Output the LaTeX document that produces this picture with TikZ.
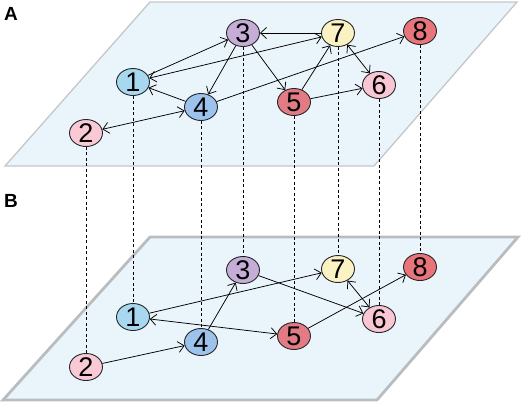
\documentclass[tikz,border=0pt]{standalone}
\usepackage{fontspec}
\setmainfont{Liberation Sans}
\usetikzlibrary{arrows.meta,shapes.geometric}
\definecolor{planefill}{HTML}{EAF4FB}
\definecolor{planeedge}{HTML}{C4C7CA}
\definecolor{cA}{HTML}{A8D8F0}
\definecolor{cB}{HTML}{F9C9D5}
\definecolor{cC}{HTML}{C5ADD8}
\definecolor{cD}{HTML}{9DC3EC}
\definecolor{cE}{HTML}{E27B83}
\definecolor{cF}{HTML}{F9C6D3}
\definecolor{cG}{HTML}{FBF2C4}
\definecolor{cH}{HTML}{E8747C}
\begin{document}
\begin{tikzpicture}[x=1pt,y=-1pt,
  vnode/.style={ellipse,draw=black!85,line width=0.9pt,minimum width=33pt,minimum height=27pt,inner sep=0pt,font=\fontsize{27}{27}\selectfont},
  edge/.style={line width=0.75pt,-{Straight Barb[length=6pt,width=11pt,line width=0.75pt]}},
  dedge/.style={line width=0.75pt,{Straight Barb[length=6pt,width=11pt,line width=0.75pt]}-{Straight Barb[length=6pt,width=11pt,line width=0.75pt]}},
  vlink/.style={line width=0.7pt,dash pattern=on 3pt off 2.5pt},
  plabel/.style={font=\bfseries\fontsize{19}{19}\selectfont}]
\useasboundingbox (0,0) rectangle (526,405);
% planes
\draw[fill=planefill,draw=planeedge,line width=1.3pt] (150,2) -- (517,2) -- (374,166) -- (5,166) -- cycle;
\draw[fill=planefill,draw=planeedge!95!black,line width=2.8pt] (150,237) -- (518,237) -- (377,400) -- (3,400) -- cycle;
\node[plabel] (lA) at (11,14) {A};
\node[plabel] (lB) at (11,201) {B};
% top nodes
\node[vnode,fill=cA] (a1) at (133,82) {1};
\node[vnode,fill=cB] (a2) at (86,133) {2};
\node[vnode,fill=cC] (a3) at (243,33) {3};
\node[vnode,fill=cD] (a4) at (201,107) {4};
\node[vnode,fill=cE] (a5) at (294,102) {5};
\node[vnode,fill=cF] (a6) at (379,85) {6};
\node[vnode,fill=cG] (a7) at (338,33) {7};
\node[vnode,fill=cH] (a8) at (420,31) {8};
% bottom nodes
\node[vnode,fill=cA] (b1) at (133,317) {1};
\node[vnode,fill=cB] (b2) at (86,367) {2};
\node[vnode,fill=cC] (b3) at (243,270) {3};
\node[vnode,fill=cD] (b4) at (201,342) {4};
\node[vnode,fill=cE] (b5) at (294,336) {5};
\node[vnode,fill=cF] (b6) at (379,319) {6};
\node[vnode,fill=cG] (b7) at (338,269) {7};
\node[vnode,fill=cH] (b8) at (420,267) {8};
% vertical links
\foreach \i in {1,...,8} {\draw[vlink] (a\i.south) -- (b\i.north);}
% top edges
\draw[edge] (a1) -- (a3);
\draw[edge] (a7) -- (a3);
\draw[dedge] (a1) -- (a7);
\draw[edge] (a3) -- (a4);
\draw[edge] (a3) -- (a5);
\draw[edge] (a4) -- (a1);
\draw[dedge] (a2) -- (a4);
\draw[edge] (a4) -- (a8);
\draw[edge] (a5) -- (a7);
\draw[edge] (a5) -- (a6);
\draw[dedge] (a7) -- (a6);
% bottom edges
\draw[edge] (b1) -- (b7);
\draw[edge] (b3) -- (b6);
\draw[edge] (b4) -- (b3);
\draw[edge] (b2) -- (b4);
\draw[dedge] (b1) -- (b5);
\draw[edge] (b5) -- (b8);
\draw[dedge] (b6) -- (b7);
\end{tikzpicture}
\end{document}
